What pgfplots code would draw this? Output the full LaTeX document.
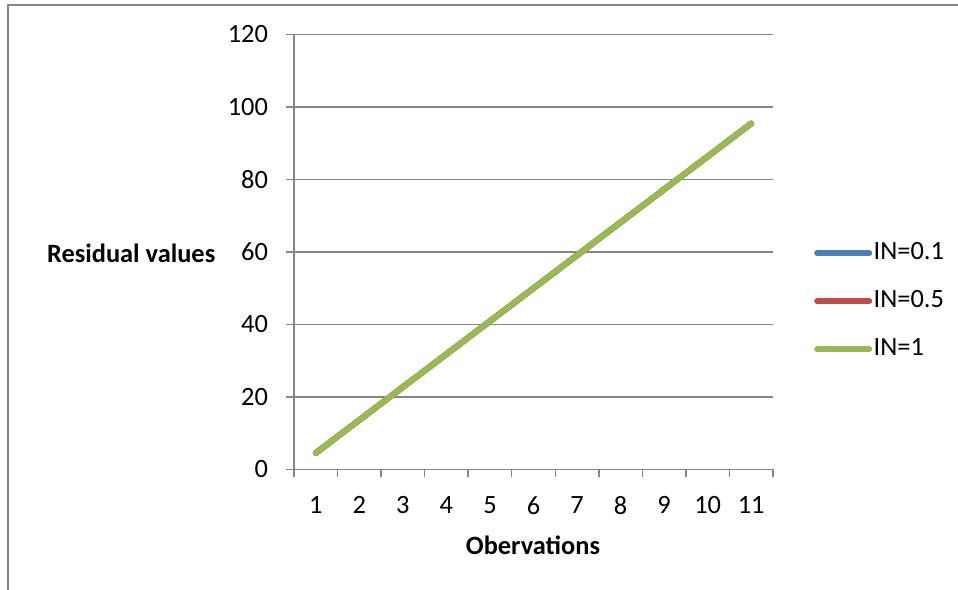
\documentclass[border=0pt]{standalone}
\usepackage{pgfplots}
\pgfplotsset{compat=1.18}
\usepackage{fontspec}
\setmainfont{Carlito}
\definecolor{exblue}{RGB}{74,126,187}
\definecolor{exred}{RGB}{190,75,72}
\definecolor{exgreen}{RGB}{152,185,84}
\definecolor{gridgray}{RGB}{134,134,134}
\begin{document}
\fontsize{26.4bp}{31bp}\selectfont
\begin{tikzpicture}[x=1bp,y=1bp]
\useasboundingbox (0,0) rectangle (958,590);
\draw[color=gridgray, line width=1.2bp] (8,-5) -- (8,585) -- (965,585);
\begin{axis}[
 at={(294bp,120.5bp)}, anchor=south west,
 width=479bp, height=435bp, scale only axis,
 xmin=0.5, xmax=11.5, ymin=0, ymax=120,
 axis x line*=bottom, axis y line*=left,
 axis line style={-, gridgray, line width=1.5bp},
 ytick={0,20,...,120},
 xtick={1,...,11},
 minor xtick={0.5,1.5,...,11.5},
 tick align=outside,
 major tick length=8bp, minor tick length=8bp,
 tick style={gridgray, line width=1.5bp},
 major x tick style={draw=none},
 ymajorgrids,
 major grid style={gridgray, line width=1.5bp},
 /pgf/number format/assume math mode=true,
 yticklabel style={xshift=-9bp},
 xticklabel style={yshift=-10bp},
 ylabel={\bfseries Residual values},
 ylabel style={rotate=-90, at={(axis description cs:-0.340,0.498)}, anchor=center},
 xlabel={\bfseries Obervations},
 xlabel style={at={(axis description cs:0.499,-0.174)}, anchor=center},
 legend style={at={(axis description cs:1.0856,0.523)}, anchor=north west, draw=none, fill=none, inner sep=0pt, row sep=26bp, column sep=1.5bp, nodes={inner sep=0pt, text height=17bp, text depth=5bp}},
 legend cell align=left,
 legend image code/.code={\draw[#1, line width=6bp, line cap=round] (0bp,0bp) -- (52bp,0bp);},
]
\addplot[exblue, line width=6bp, line cap=round] coordinates {(1,4.55) (2,13.64) (3,22.73) (4,31.82) (5,40.91) (6,50.00) (7,59.09) (8,68.18) (9,77.27) (10,86.36) (11,95.45)};
\addlegendentry{IN=0.1}
\addplot[exred, line width=6bp, line cap=round] coordinates {(1,4.55) (2,13.64) (3,22.73) (4,31.82) (5,40.91) (6,50.00) (7,59.09) (8,68.18) (9,77.27) (10,86.36) (11,95.45)};
\addlegendentry{IN=0.5}
\addplot[exgreen, line width=6bp, line cap=round] coordinates {(1,4.55) (2,13.64) (3,22.73) (4,31.82) (5,40.91) (6,50.00) (7,59.09) (8,68.18) (9,77.27) (10,86.36) (11,95.45)};
\addlegendentry{IN=1}
\end{axis}
\end{tikzpicture}
\end{document}
